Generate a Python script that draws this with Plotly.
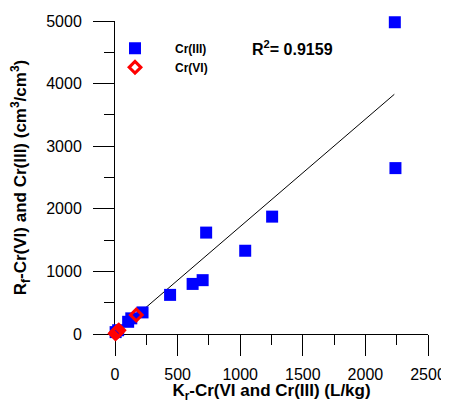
import plotly.graph_objects as go

# Data
cr3_x = [5, 25, 105, 130, 220, 440, 620, 700, 728, 1040, 1255, 2240, 2235]
cr3_y = [30, 60, 195, 250, 345, 625, 800, 860, 1620, 1330, 1875, 2650, 4980]

cr6_x = [3, 10, 20, 30, 170]
cr6_y = [8, 20, 40, 60, 303]

fit_x = [0, 2231]
fit_y = [0, 3829]

x_ticks = [0, 500, 1000, 1500, 2000, 2500]
y_ticks = [0, 1000, 2000, 3000, 4000, 5000]

r2_text = "R<sup>2</sup>= 0.9159"

FONT = "Arial, Liberation Sans, sans-serif"
NB = "\u00a0" * 6

fig = go.Figure()

fig.add_trace(go.Scatter(
    x=fit_x, y=fit_y, mode="lines",
    line=dict(color="black", width=1),
    showlegend=False, hoverinfo="skip",
))

fig.add_trace(go.Scatter(
    x=cr3_x, y=cr3_y, mode="markers", name=NB + "Cr(III)",
    marker=dict(symbol="square", size=12, color="#0000ff", line=dict(width=0)),
    cliponaxis=False,
))

fig.add_trace(go.Scatter(
    x=cr6_x, y=cr6_y, mode="markers", name=NB + "Cr(VI)",
    marker=dict(symbol="diamond-open", size=9, color="#ff0000", line=dict(width=3, color="#ff0000")),
    cliponaxis=False,
))

fig.add_annotation(
    x=0.431, y=0.914, xref="paper", yref="paper",
    text=r2_text, showarrow=False, xanchor="left", yanchor="middle",
    font=dict(family=FONT, size=16, color="black", weight="bold"),
)

axis_common = dict(
    showgrid=False, zeroline=False, showline=True, linecolor="black", linewidth=1,
    ticks="outside", ticklen=21, tickwidth=1, tickcolor="black",
    tickfont=dict(family=FONT, size=16, color="black"),
    layer="below traces", automargin=False,
)

fig.update_xaxes(
    **axis_common,
    range=[0, 2500], tickvals=x_ticks, ticktext=[str(v) for v in x_ticks],
    minor=dict(ticks="outside", ticklen=10, tickcolor="black", dtick=250, showgrid=False),
    ticklabelstandoff=5,
    title=dict(text="K<sub>r</sub>-Cr(VI and Cr(III) (L/kg)",
               font=dict(family=FONT, size=17, color="black", weight="bold"), standoff=9),
)
fig.update_yaxes(
    **axis_common,
    range=[0, 5000], tickvals=y_ticks, ticktext=[str(v) for v in y_ticks],
    minor=dict(ticks="outside", ticklen=10, tickcolor="black", dtick=500, showgrid=False),
    ticklabelstandoff=8,
    title=dict(text="R<sub>f</sub>-Cr(VI) and Cr(III) (cm<sup>3</sup>/cm<sup>3</sup>)",
               font=dict(family=FONT, size=17, color="black", weight="bold"), standoff=16),
)

# The page body has an 8px margin, so the figure is shrunk by 8px on each axis
fig.update_layout(
    width=441, height=395,
    margin=dict(l=107, r=21, t=13, b=69),
    paper_bgcolor="white", plot_bgcolor="white",
    showlegend=True,
    legend=dict(
        x=0.0, y=0.959, xanchor="left", yanchor="top",
        font=dict(family=FONT, size=12, color="black", weight="bold"),
        bgcolor="rgba(0,0,0,0)", borderwidth=0, tracegroupgap=0,
    ),
)

fig.write_html("out.html")
